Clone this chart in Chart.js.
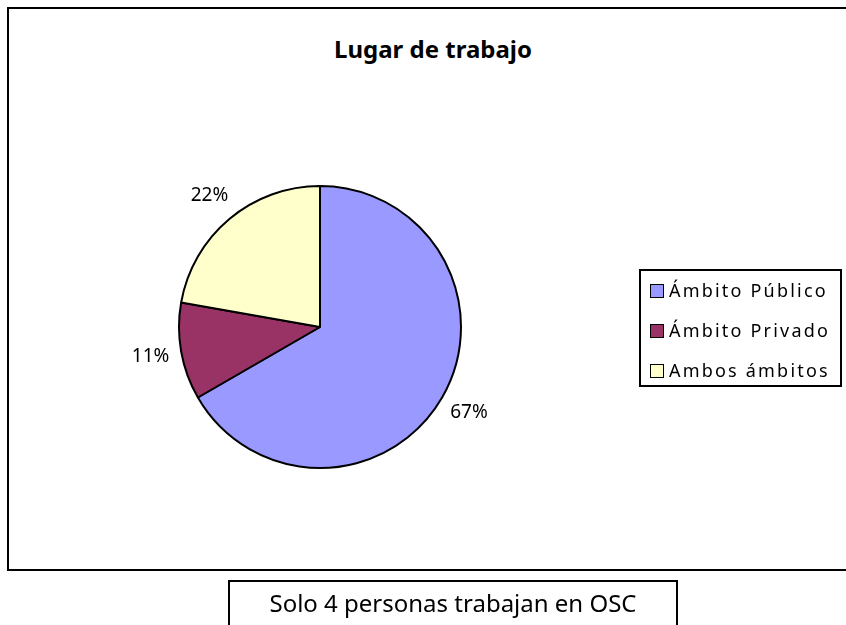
<!DOCTYPE html>
<html lang="es">
<head>
<meta charset="UTF-8">
<title>Lugar de trabajo</title>
<script src="https://cdn.jsdelivr.net/npm/chart.js"></script>
<style>
    body {
        margin: 0;
        width: 846px;
        height: 625px;
        overflow: hidden;
        background: #fff;
        position: relative;
        font-family: "Noto Sans", "Liberation Sans", sans-serif;
        color: #000;
    }
    #pieChart {
        position: absolute;
        left: 0;
        top: 0;
    }
    .frame {
        position: absolute;
        left: 7px;
        top: 7px;
        width: 860px;
        height: 560px;
        border: 2px solid #000;
        box-sizing: content-box;
    }
    .title {
        position: absolute;
        left: 233px;
        width: 400px;
        top: 32px;
        text-align: center;
        font-weight: bold;
        font-size: 24px;
    }
    .legend {
        position: absolute;
        left: 639px;
        top: 269px;
        width: 203px;
        height: 118px;
        border: 2px solid #000;
        box-sizing: border-box;
    }
    .legend div {
        position: absolute;
        left: 9px;
        font-size: 18px;
        letter-spacing: 2.2px;
        white-space: nowrap;
        line-height: 20px;
    }
    .legend span {
        display: inline-block;
        width: 12px;
        height: 12px;
        border: 1.5px solid #000;
        margin-right: 5px;
        vertical-align: -1px;
    }
    .note {
        position: absolute;
        left: 228px;
        top: 580px;
        width: 450px;
        height: 60px;
        border: 2px solid #000;
        box-sizing: border-box;
        text-align: center;
        font-size: 24px;
        padding-top: 4px;
    }
</style>
</head>
<body>
<div class="frame"></div>
<div class="title">Lugar de trabajo</div>
<canvas id="pieChart" width="846" height="625"></canvas>
<div class="legend" id="legend"></div>
<div class="note">Solo 4 personas trabajan en OSC</div>

<script>
    const categories = ['Ámbito Público', 'Ámbito Privado', 'Ambos ámbitos'];
    const people = [6, 1, 2];
    const percentLabels = ['67%', '11%', '22%'];
    const colors = ['#9999FF', '#993366', '#FFFFCC'];

    // legend box, one row per category
    const legend = document.getElementById('legend');
    categories.forEach((name, i) => {
        const row = document.createElement('div');
        row.style.top = (9 + i * 40) + 'px';
        const box = document.createElement('span');
        box.style.background = colors[i];
        row.appendChild(box);
        row.appendChild(document.createTextNode(name));
        legend.appendChild(row);
    });

    // percent labels outside each slice
    const outsideLabels = {
        id: 'outsideLabels',
        afterDatasetsDraw(chart) {
            const ctx = chart.ctx;
            const meta = chart.getDatasetMeta(0);
            ctx.save();
            ctx.font = '19px "Noto Sans", "Liberation Sans", sans-serif';
            ctx.fillStyle = '#000';
            ctx.textAlign = 'center';
            ctx.textBaseline = 'middle';
            meta.data.forEach((arc, i) => {
                const mid = (arc.startAngle + arc.endAngle) / 2;
                const r = arc.outerRadius + 31;
                ctx.fillText(percentLabels[i], arc.x + Math.cos(mid) * r, arc.y + Math.sin(mid) * r);
            });
            ctx.restore();
        }
    };

    new Chart(document.getElementById('pieChart'), {
        type: 'pie',
        data: {
            labels: categories,
            datasets: [{
                data: people,
                backgroundColor: colors,
                borderColor: '#000',
                borderWidth: 2,
            }],
        },
        options: {
            responsive: false,
            animation: false,
            devicePixelRatio: 1,
            layout: {
                padding: { left: 178, right: 384, top: 185, bottom: 156 }
            },
            plugins: {
                legend: { display: false },
                tooltip: { enabled: false },
            },
        },
        plugins: [outsideLabels],
    });
</script>
</body>
</html>
